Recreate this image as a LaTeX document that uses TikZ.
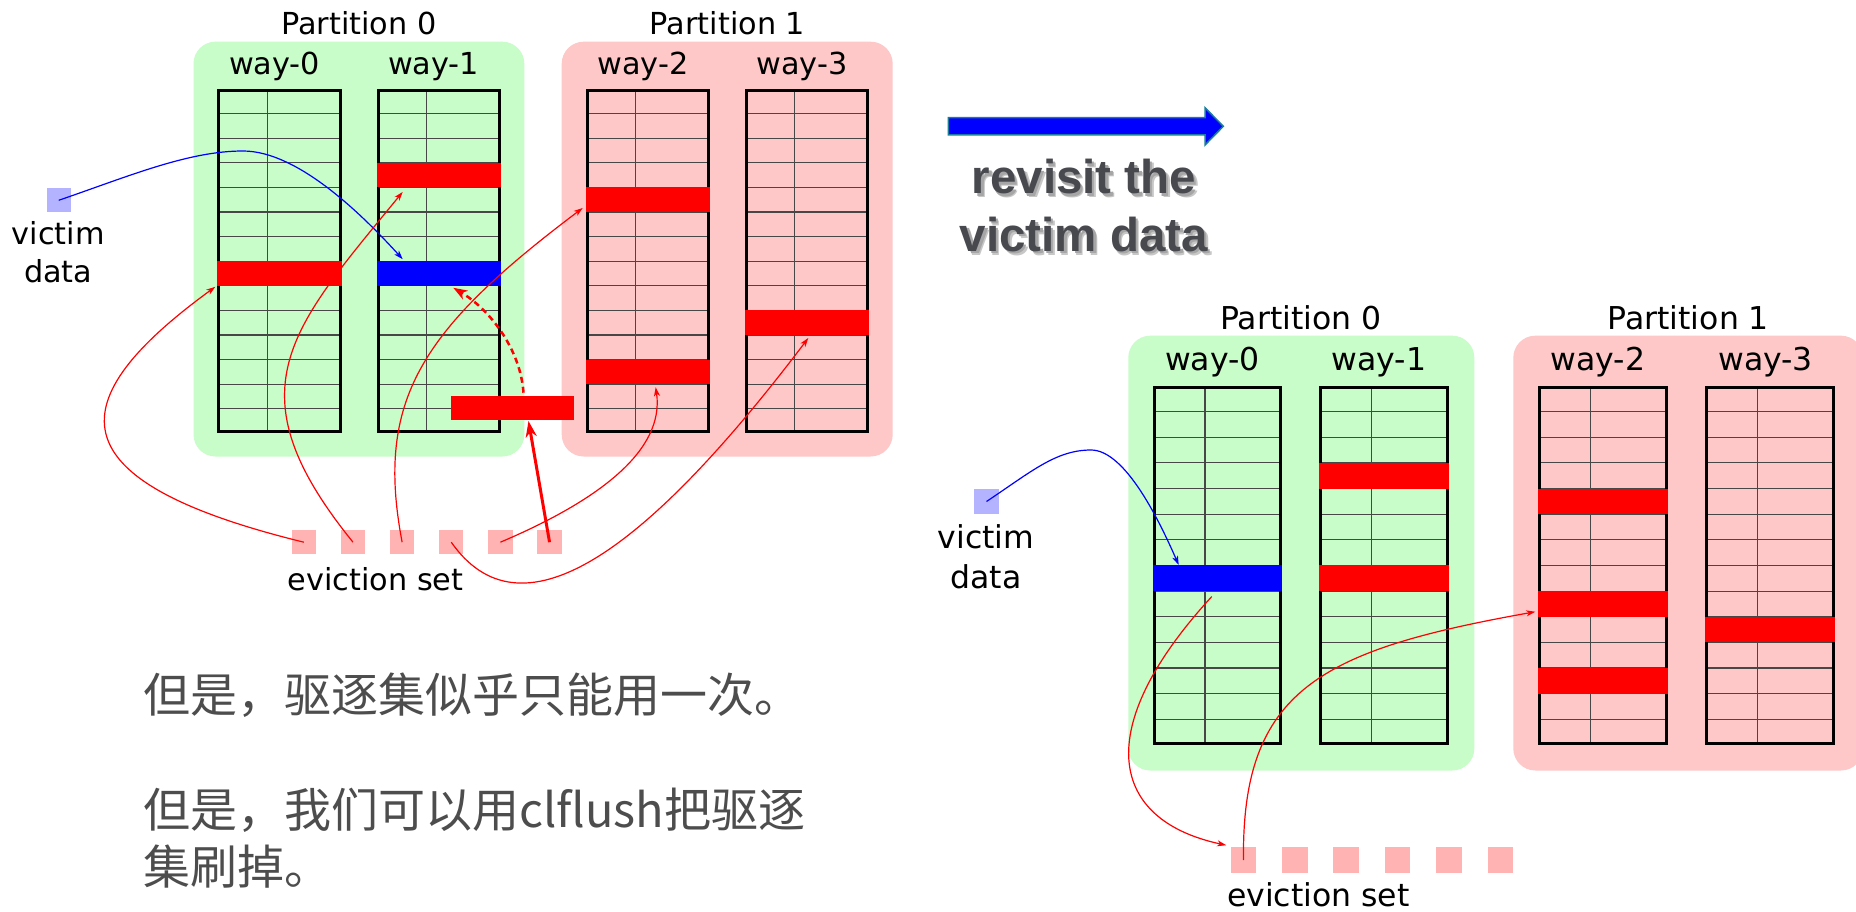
\documentclass[tikz,border=0pt]{standalone}
\usepackage{fontspec}
\setmainfont{DejaVu Sans}
\newfontfamily\cjkfont{Noto Sans CJK SC}
\newfontfamily\headfont{Liberation Sans}
\usetikzlibrary{arrows.meta,calc}

\definecolor{partgreen}{RGB}{200,252,200}
\definecolor{partpink}{RGB}{254,200,200}
\definecolor{victimblue}{RGB}{179,179,255}
\definecolor{evictpink}{RGB}{255,179,179}
\definecolor{hitred}{RGB}{255,0,0}
\definecolor{hitblue}{RGB}{0,0,255}
\definecolor{notegray}{RGB}{77,77,77}
\definecolor{headgray}{RGB}{72,73,78}
\definecolor{arrowedge}{RGB}{25,125,155}

\tikzset{
  partbox/.style={rounded corners=22pt, inner sep=0pt, outer sep=0pt, anchor=north west},
  wayframe/.style={inner sep=0pt, outer sep=0pt},
  wayborder/.style={draw=black, line width=3pt},
  gridline/.style={black!72, line width=1.1pt},
  cacheslot/.style={inner sep=0pt, outer sep=0pt, anchor=north west},
  datasq/.style={inner sep=0pt, outer sep=0pt},
  lblL/.style={font=\fontsize{30.3}{36}\selectfont, inner sep=0pt, anchor=base},
  lblR/.style={font=\fontsize{31.5}{38}\selectfont, inner sep=0pt, anchor=base},
  thinred/.style={draw=hitred, line width=1.2pt, -{Stealth[length=9pt,width=6pt,inset=2.5pt]}},
  thinblue/.style={draw=hitblue, line width=1.2pt, -{Stealth[length=9pt,width=6pt,inset=2.5pt]}},
  thickred/.style={draw=hitred, line width=3pt, -{Stealth[length=16pt,width=11pt,inset=5pt]}},
  dashred/.style={draw=hitred, line width=2.5pt, dash pattern=on 6pt off 4pt, -{Stealth[length=14pt,width=10pt,inset=4pt]}},
  headtxt/.style={font=\headfont\bfseries\fontsize{47.5}{57}\selectfont, text=headgray, anchor=base, inner sep=0pt},
  headshadow/.style={font=\headfont\bfseries\fontsize{47.5}{57}\selectfont, anchor=base, inner sep=0pt},
  note/.style={font=\cjkfont\fontsize{47}{57}\selectfont, text=notegray, anchor=base west, inner sep=0pt}
}

% one cache way: name, left, top, width, row height, fill
\newcommand\cacheway[6]{%
  \node[wayframe, fill=#6, anchor=north west,
        minimum width={(#4-3)*1pt}, minimum height={(14*#5-3)*1pt}] (#1) at ({#2+1.5},{#3+1.5}) {};
  \foreach \k in {1,...,13}
    \draw[gridline] ({#2+3},{#3+\k*#5}) -- ({#2+#4-3},{#3+\k*#5});
  \draw[gridline] ({#2+0.403*#4},{#3+3}) -- ({#2+0.403*#4},{#3+14*#5-3});
  \draw[wayborder] (#1.north west) rectangle (#1.south east);
}
% one occupied line: name, way left, way top, width, row height, row index, colour
\newcommand\cacheline[7]{%
  \node[cacheslot, fill=#7, minimum width={#4*1pt}, minimum height={#5*1pt}] (#1) at (#2,{#3+#6*#5}) {};
}

\begin{document}
\begin{tikzpicture}[x=1pt, y=-1pt]
\clip (0,0) rectangle (1856,912);
\fill[white] (0,0) rectangle (1856,912);

% ---------------- left cache ----------------
\node[partbox, fill=partgreen, minimum width=330.8pt, minimum height=414.8pt] (PL0) at (193.5,41.7) {};
\node[partbox, fill=partpink, minimum width=331pt, minimum height=414.8pt] (PL1) at (561.7,41.7) {};

\cacheway{L0}{217.3}{89}{124.3}{24.6}{partgreen}
\cacheway{L1}{376.7}{89}{124.3}{24.6}{partgreen}
\cacheway{L2}{585.7}{89}{124.3}{24.6}{partpink}
\cacheway{L3}{744.7}{89}{124.3}{24.6}{partpink}

\cacheline{bL0}{217.3}{89}{124.3}{24.6}{7}{hitred}
\cacheline{bL1a}{376.7}{89}{124.3}{24.6}{3}{hitred}
\cacheline{bL1b}{376.7}{89}{124.3}{24.6}{7}{hitblue}
\cacheline{bL2a}{585.7}{89}{124.3}{24.6}{4}{hitred}
\cacheline{bL2b}{585.7}{89}{124.3}{24.6}{11}{hitred}
\cacheline{bL3}{744.7}{89}{124.3}{24.6}{9}{hitred}

\node[cacheslot, fill=hitred, minimum width=123pt, minimum height=24.3pt] (evicted) at (451,395.7) {};

\node[lblL] (tPL0) at (359,35) {Partition 0};
\node[lblL] (tPL1) at (727.5,35) {Partition 1};
\node[lblL] (tL0) at (274.5,75) {way-0};
\node[lblL] (tL1) at (433.5,75) {way-1};
\node[lblL] (tL2) at (643,75) {way-2};
\node[lblL] (tL3) at (802,75) {way-3};

\node[datasq, fill=victimblue, minimum size=24.3pt] (vL) at (58.7,200.3) {};
\node[lblL] (vtL) at (58.3,245) {victim};
\node[lblL] (dtL) at (58.3,282.7) {data};

\foreach \k in {1,...,6}
  \node[datasq, fill=evictpink, minimum size=24.4pt] (eL\k) at ({303.85+(\k-1)*49.14},542.2) {};
\node[lblL] (esL) at (375.5,590) {eviction set};

\coordinate (vLpeak) at (243,151);
\draw[thinblue] (vL.center) .. controls +(70,-24) and +(-55,0) .. (vLpeak)
  .. controls +(55,0) and +(-40,-44) .. ($(bL1b.north west)+(26,-2)$);
\draw[thinred] (eL1.center) .. controls +(-253,-62) and +(-155,113) .. ($(bL0.south west)+(-2,1)$);
\draw[thinred] (eL2.center) .. controls +(-123,-152) and +(-113,138) .. ($(bL1a.south west)+(26,4.5)$);
\draw[thinred] (eL3.center) .. controls +(-27,-142) and +(-162,122) .. ($(bL2a.south west)+(-3,-4)$);
\draw[thinred] (eL4.center) .. controls +(68,97) and +(-168,222) .. ($(bL3.south west)+(63.6,3)$);
\draw[thinred] (eL5.center) .. controls +(99,-42) and +(9,63) .. ($(bL2b.south west)+(70,3)$);
\draw[thickred] (eL6.center) -- ($(evicted.south)+(16,1)$);
\draw[dashred] ($(evicted.north)+(11,-3)$) .. controls +(-3,-43) and +(37,22) .. ($(bL1b.south west)+(76.6,2)$);

% ---------------- transition ----------------
\fill[hitblue, draw=arrowedge, line width=1.5pt]
  (948.3,117.7) -- (1205,117.7) -- (1205,107.7) -- (1223.3,126.3) -- (1205,145)
  -- (1205,135) -- (948.3,135) -- cycle;
\node[headshadow, text=black!22] at (1087.5,197.5) {revisit the};
\node[headshadow, text=black!35] at (1086.2,196.2) {revisit the};
\node[headtxt] (rev1) at (1084,194) {revisit the};
\node[headshadow, text=black!22] at (1087.5,255) {victim data};
\node[headshadow, text=black!35] at (1086.2,253.7) {victim data};
\node[headtxt] (rev2) at (1084,251.5) {victim data};

% ---------------- right cache ----------------
\node[partbox, fill=partgreen, minimum width=346pt, minimum height=434.8pt] (PR0) at (1128.3,335.7) {};
\node[partbox, fill=partpink, minimum width=349.7pt, minimum height=434.8pt] (PR1) at (1513.3,335.7) {};

\cacheway{R0}{1152.7}{386}{129.7}{25.64}{partgreen}
\cacheway{R1}{1319.3}{386}{129.7}{25.64}{partgreen}
\cacheway{R2}{1538.3}{386}{129.7}{25.64}{partpink}
\cacheway{R3}{1705}{386}{129.7}{25.64}{partpink}

\cacheline{bR0}{1152.7}{386}{129.7}{25.64}{7}{hitblue}
\cacheline{bR1a}{1319.3}{386}{129.7}{25.64}{3}{hitred}
\cacheline{bR1b}{1319.3}{386}{129.7}{25.64}{7}{hitred}
\cacheline{bR2a}{1538.3}{386}{129.7}{25.64}{4}{hitred}
\cacheline{bR2b}{1538.3}{386}{129.7}{25.64}{8}{hitred}
\cacheline{bR2c}{1538.3}{386}{129.7}{25.64}{11}{hitred}
\cacheline{bR3}{1705}{386}{129.7}{25.64}{9}{hitred}

\node[lblR] (tPR0) at (1301,329.3) {Partition 0};
\node[lblR] (tPR1) at (1688.3,329.3) {Partition 1};
\node[lblR] (tR0) at (1212.5,370.7) {way-0};
\node[lblR] (tR1) at (1379,370.7) {way-1};
\node[lblR] (tR2) at (1598,370.7) {way-2};
\node[lblR] (tR3) at (1765.5,370.7) {way-3};

\node[datasq, fill=victimblue, minimum size=25pt] (vR) at (986.5,501.5) {};
\node[lblR] (vtR) at (986,548.3) {victim};
\node[lblR] (dtR) at (986,588.3) {data};

\foreach \k in {1,...,6}
  \node[datasq, fill=evictpink, minimum size=25.6pt] (eR\k) at ({1243.5+(\k-1)*51.36},860) {};
\node[lblR] (esR) at (1318.3,906.5) {eviction set};

\coordinate (vRpeak) at (1091,450);
\draw[thinblue] (vR.center) .. controls +(45,-30) and +(-35,0) .. (vRpeak)
  .. controls +(35,0) and +(-18,-41) .. ($(bR0.north west)+(26,-0.5)$);
\draw[thinred] ($(bR0.south west)+(59,5.5)$) .. controls +(-122,133) and +(-116,-25) .. ($(eR1.north west)+(-4.5,-2)$);
\draw[thinred] (eR1.center) .. controls +(-2,-170) and +(-215,38.3) .. ($(bR2b.south west)+(-3,-5)$);

% ---------------- notes ----------------
\node[note] (n1) at (143,712) {但是，驱逐集似乎只能用一次。};
\node[note] (n2) at (143,827) {但是，我们可以用clflush把驱逐};
\node[note] (n3) at (143,884) {集刷掉。};
\end{tikzpicture}
\end{document}
